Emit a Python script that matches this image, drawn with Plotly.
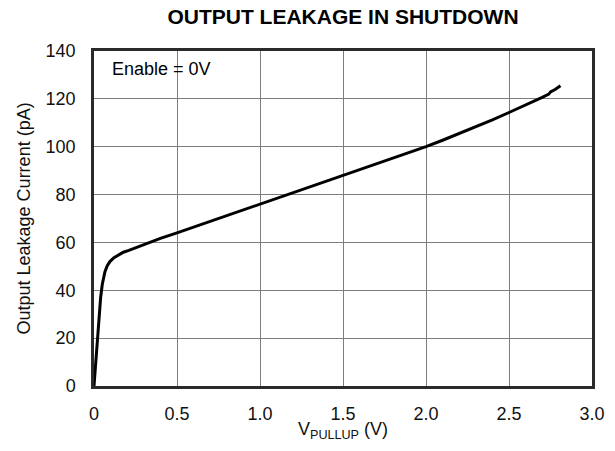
import plotly.graph_objects as go

v_pullup = [0, 0.01, 0.02, 0.03, 0.04, 0.05, 0.066, 0.08, 0.096, 0.12, 0.15, 0.177, 0.21, 0.25, 0.29, 0.33,
            0.4, 0.5, 0.6, 0.7, 0.8, 0.9, 1.0, 1.1, 1.2, 1.3, 1.4, 1.5, 1.6, 1.7, 1.8, 1.9, 2.0,
            2.1, 2.2, 2.3, 2.4, 2.5, 2.6, 2.7, 2.74, 2.75, 2.78, 2.81]
leakage_pa = [0, 10, 20, 30, 37, 42.5, 47.8, 50.3, 52, 53.6, 54.9, 55.9, 56.7, 57.8, 58.9, 60,
              61.7, 64, 66.4, 68.8, 71.2, 73.5, 75.8, 78.2, 80.6, 83, 85.4, 87.8, 90.2, 92.7, 95.1, 97.5, 100,
              102.7, 105.5, 108.3, 111.2, 114.3, 117.3, 120.6, 122, 122.9, 124, 125.5]

x_ticks = [0, 0.5, 1.0, 1.5, 2.0, 2.5, 3.0]
x_labels = ["0", "0.5", "1.0", "1.5", "2.0", "2.5", "3.0"]
y_ticks = [0, 20, 40, 60, 80, 100, 120, 140]

FONT = "Liberation Sans, Arial, Helvetica, sans-serif"

fig = go.Figure()
fig.add_trace(go.Scatter(x=v_pullup, y=leakage_pa, mode="lines",
                         line=dict(color="black", width=3), showlegend=False))

axis_common = dict(showgrid=True, gridcolor="#7d7d7d", gridwidth=1,
                   showline=True, linecolor="#2a2a2a", linewidth=2.5, mirror=True,
                   ticks="", zeroline=False, automargin=False,
                   tickfont=dict(size=18, family=FONT, color="#111111"))

fig.update_layout(
    width=615, height=451,
    margin=dict(l=94, r=23, t=51, b=65),
    paper_bgcolor="white", plot_bgcolor="white",
    font=dict(family=FONT, size=18, color="black"),
    title=dict(text="<b>OUTPUT LEAKAGE IN SHUTDOWN</b>", x=0.5, xanchor="center", xref="paper",
               y=1 - 17 / 451, yanchor="middle", yref="container",
               font=dict(size=21, family=FONT, color="black")),
    xaxis=dict(range=[0, 3.0], tickvals=x_ticks, ticktext=x_labels,
               ticklabelstandoff=10, **axis_common),
    yaxis=dict(range=[0, 140], tickvals=y_ticks, ticklabelstandoff=12, **axis_common),
    shapes=[dict(type="rect", xref="paper", yref="paper", x0=0.004, x1=0.257, y0=0.9075, y1=0.996,
                 fillcolor="white", line=dict(width=0), layer="between")],
    annotations=[
        dict(text="Enable = 0V", xref="paper", yref="paper",
             x=0.032, y=0.946, xanchor="left", yanchor="middle",
             showarrow=False, font=dict(size=18, color="black")),
        dict(text="V<sub>PULLUP</sub> (V)", xref="paper", yref="paper",
             x=0.5, y=-0.134, xanchor="center", yanchor="middle",
             showarrow=False, font=dict(size=18, color="#111111")),
        dict(text="Output Leakage Current (pA)", xref="paper", yref="paper",
             x=-0.1406, y=0.5, xanchor="center", yanchor="middle", textangle=-90,
             showarrow=False, font=dict(size=18, color="#111111")),
    ],
)

fig.write_html("out.html", config={"displayModeBar": False},
               post_script="document.body.style.margin='0';")
